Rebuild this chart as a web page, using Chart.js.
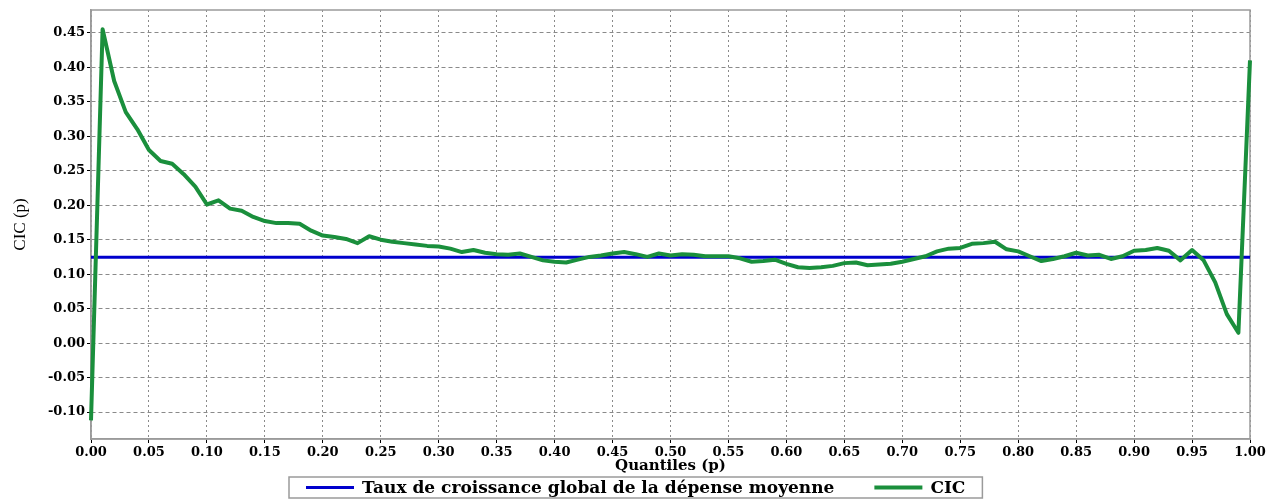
<!DOCTYPE html>
<html>
<head>
<meta charset="utf-8">
<script src="https://cdn.jsdelivr.net/npm/chart.js@4.4.1/dist/chart.umd.min.js"></script>
<style>
  html, body { margin: 0; padding: 0; background: #fff; }
  #wrap { width: 1283px; height: 500px; }
</style>
</head>
<body>
<div id="wrap"><canvas id="cic-chart"></canvas></div>
<script>
// quantiles p and the CIC value read at each one
const quantiles = [
  0.00, 0.01, 0.02, 0.03, 0.04, 0.05, 0.06, 0.07, 0.08, 0.09,
  0.10, 0.11, 0.12, 0.13, 0.14, 0.15, 0.16, 0.17, 0.18, 0.19,
  0.20, 0.21, 0.22, 0.23, 0.24, 0.25, 0.26, 0.27, 0.28, 0.29,
  0.30, 0.31, 0.32, 0.33, 0.34, 0.35, 0.36, 0.37, 0.38, 0.39,
  0.40, 0.41, 0.42, 0.43, 0.44, 0.45, 0.46, 0.47, 0.48, 0.49,
  0.50, 0.51, 0.52, 0.53, 0.54, 0.55, 0.56, 0.57, 0.58, 0.59,
  0.60, 0.61, 0.62, 0.63, 0.64, 0.65, 0.66, 0.67, 0.68, 0.69,
  0.70, 0.71, 0.72, 0.73, 0.74, 0.75, 0.76, 0.77, 0.78, 0.79,
  0.80, 0.81, 0.82, 0.83, 0.84, 0.85, 0.86, 0.87, 0.88, 0.89,
  0.90, 0.91, 0.92, 0.93, 0.94, 0.95, 0.96, 0.97, 0.98, 0.99,
  1.00
];
const cicValues = [
  -0.112, 0.455, 0.380, 0.335, 0.310, 0.280, 0.264, 0.260, 0.245, 0.227,
  0.201, 0.207, 0.195, 0.192, 0.183, 0.177, 0.174, 0.174, 0.173, 0.163,
  0.156, 0.154, 0.151, 0.145, 0.155, 0.150, 0.147, 0.145, 0.143, 0.141,
  0.140, 0.137, 0.132, 0.135, 0.131, 0.129, 0.128, 0.130, 0.125, 0.120,
  0.118, 0.117, 0.121, 0.125, 0.127, 0.130, 0.132, 0.129, 0.125, 0.130,
  0.127, 0.129, 0.128, 0.126, 0.126, 0.126, 0.123, 0.118, 0.119, 0.121,
  0.115, 0.110, 0.109, 0.110, 0.112, 0.116, 0.117, 0.113, 0.114, 0.115,
  0.118, 0.122, 0.126, 0.133, 0.137, 0.138, 0.144, 0.145, 0.147, 0.136,
  0.133, 0.126, 0.119, 0.122, 0.126, 0.131, 0.127, 0.128, 0.122, 0.126,
  0.134, 0.135, 0.138, 0.134, 0.120, 0.135, 0.120, 0.088, 0.042, 0.015,
  0.410
];
const globalRate = 0.1245;

const xTicks = [0.00, 0.05, 0.10, 0.15, 0.20, 0.25, 0.30, 0.35, 0.40, 0.45, 0.50,
                0.55, 0.60, 0.65, 0.70, 0.75, 0.80, 0.85, 0.90, 0.95, 1.00];
const yTicks = [-0.10, -0.05, 0.00, 0.05, 0.10, 0.15, 0.20, 0.25, 0.30, 0.35, 0.40, 0.45];

const seriesLabels = ["Taux de croissance global de la dépense moyenne", "CIC"];
const seriesColors = ["#0000cd", "#1a8f3c"];

const tickFont = { family: "DejaVu Serif", size: 13, weight: "bold" };

// grey frame on all four sides of the plot
const framePlugin = {
  id: "frame",
  beforeDatasetsDraw(chart) {
    const { ctx, chartArea: a } = chart;
    ctx.save();
    ctx.strokeStyle = "#9a9a9a";
    ctx.lineWidth = 1.5;
    ctx.strokeRect(a.left, a.top, a.right - a.left, a.bottom - a.top);
    ctx.restore();
  }
};

// boxed legend under the x title
const boxLegend = {
  id: "boxLegend",
  afterDraw(chart) {
    const ctx = chart.ctx;
    ctx.save();
    ctx.font = "bold 17px 'DejaVu Serif'";
    const lineLen = 48, gapText = 8, gapItem = 40, pad = 17;
    const w1 = ctx.measureText(seriesLabels[0]).width;
    const w2 = ctx.measureText(seriesLabels[1]).width;
    const total = pad + lineLen + gapText + w1 + gapItem + lineLen + gapText + w2 + pad;
    const left = Math.round(chart.width / 2 - total / 2 - 6);
    const top = 477, h = 21, midY = top + h / 2;
    ctx.strokeStyle = "#9a9a9a";
    ctx.lineWidth = 1.5;
    ctx.strokeRect(left, top, total, h);

    let x = left + pad;
    [w1, w2].forEach((w, i) => {
      ctx.strokeStyle = seriesColors[i];
      ctx.lineWidth = i === 0 ? 3 : 4;
      ctx.beginPath();
      ctx.moveTo(x, midY);
      ctx.lineTo(x + lineLen, midY);
      ctx.stroke();
      x += lineLen + gapText;
      ctx.fillStyle = "#000";
      ctx.textBaseline = "middle";
      ctx.fillText(seriesLabels[i], x, midY + 1);
      x += w + gapItem;
    });
    ctx.restore();
  }
};

new Chart(document.getElementById("cic-chart"), {
  type: "line",
  data: {
    datasets: [
      {
        label: seriesLabels[0],
        data: [{ x: 0, y: globalRate }, { x: 1, y: globalRate }],
        borderColor: seriesColors[0],
        borderWidth: 3,
        pointRadius: 0,
        order: 1
      },
      {
        label: seriesLabels[1],
        data: quantiles.map((p, i) => ({ x: p, y: cicValues[i] })),
        borderColor: seriesColors[1],
        borderWidth: 4,
        pointRadius: 0,
        tension: 0,
        borderJoinStyle: "round",
        clip: false,
        order: 0
      }
    ]
  },
  options: {
    responsive: true,
    maintainAspectRatio: false,
    animation: false,
    devicePixelRatio: 1,
    layout: { padding: { left: 0, right: 33, top: 10, bottom: 25 } },
    plugins: {
      legend: { display: false },
      tooltip: { enabled: false }
    },
    scales: {
      x: {
        type: "linear",
        min: 0,
        max: 1,
        afterBuildTicks: (axis) => { axis.ticks = xTicks.map(v => ({ value: v })); },
        afterFit: (axis) => { axis.height = 36; },
        ticks: {
          autoSkip: false,
          maxRotation: 0,
          padding: 2,
          color: "#000",
          font: tickFont,
          callback: (v) => v.toFixed(2)
        },
        grid: { color: "#8a8a8a", tickColor: "#000", tickLength: 4, tickBorderDash: [] },
        border: { color: "#9a9a9a", width: 1.5, dash: [2, 3] },
        title: {
          display: true,
          text: "Quantiles (p)",
          color: "#000",
          font: { family: "DejaVu Serif", size: 15, weight: "bold" },
          padding: 0
        }
      },
      y: {
        type: "linear",
        min: -0.139,
        max: 0.483,
        afterBuildTicks: (axis) => { axis.ticks = yTicks.map(v => ({ value: v })); },
        afterFit: (axis) => { axis.width = 91; },
        ticks: {
          padding: 2,
          color: "#000",
          font: tickFont,
          callback: (v) => v.toFixed(2)
        },
        grid: { color: "#8a8a8a", tickColor: "#000", tickLength: 4, tickBorderDash: [] },
        border: { color: "#9a9a9a", width: 1.5, dash: [4, 3] },
        title: {
          display: true,
          text: "CIC (p)",
          color: "#000",
          font: { family: "Liberation Serif", size: 17 },
          padding: { top: 10, bottom: 0 }
        }
      }
    }
  },
  plugins: [framePlugin, boxLegend]
});
</script>
</body>
</html>
